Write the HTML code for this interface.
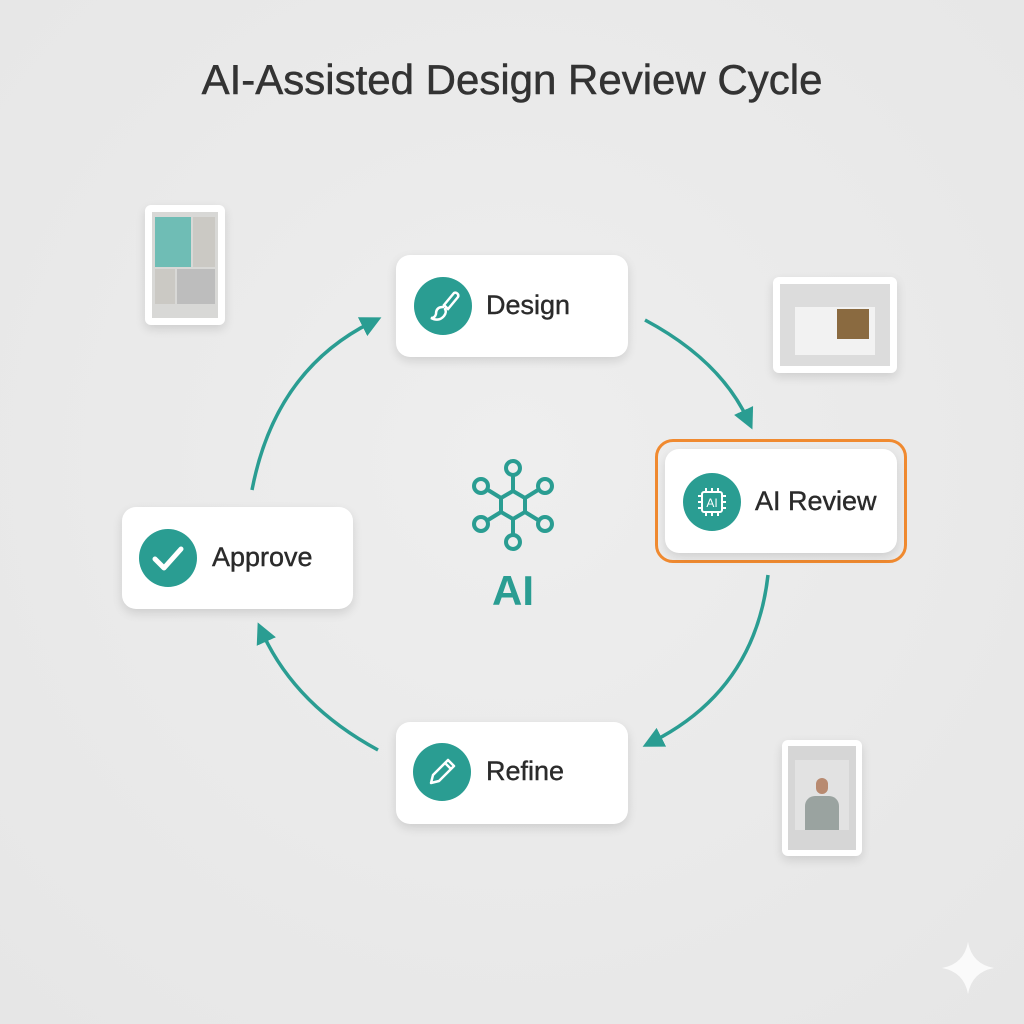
<!DOCTYPE html>
<html><head><meta charset="utf-8"><style>
html,body{margin:0;padding:0}
body{width:1024px;height:1024px;background:radial-gradient(circle at 50% 45%,#eeeeee,#e6e6e6);position:relative;overflow:hidden;font-family:"Liberation Sans",sans-serif}
.t{position:absolute;left:0;width:1024px;top:56px;text-align:center;font-size:42px;color:#333;-webkit-text-stroke:0.5px #333}
.card{position:absolute;background:#fff;border-radius:14px;box-shadow:0 4px 10px rgba(0,0,0,0.12)}
.lbl{position:absolute;font-size:27px;color:#2b2b2b;-webkit-text-stroke:0.4px #2b2b2b}
.ic{position:absolute;width:58px;height:58px;border-radius:50%;background:#2a9d92}
</style></head><body>
<div class="t">AI-Assisted Design Review Cycle</div>

<div class="card" style="left:145px;top:205px;width:80px;height:120px;border-radius:6px">
 <div style="position:absolute;left:7px;top:7px;width:66px;height:106px;background:#d8d8d6"></div>
 <div style="position:absolute;left:10px;top:12px;width:36px;height:50px;background:#6fbdb5"></div>
 <div style="position:absolute;left:48px;top:12px;width:22px;height:50px;background:#cbc9c4"></div>
 <div style="position:absolute;left:10px;top:64px;width:20px;height:35px;background:#cbc9c4"></div>
 <div style="position:absolute;left:32px;top:64px;width:38px;height:35px;background:#bdbdbd"></div>
</div>
<div class="card" style="left:773px;top:277px;width:124px;height:96px;border-radius:6px">
 <div style="position:absolute;left:7px;top:7px;width:110px;height:82px;background:#dcdcdc"></div>
 <div style="position:absolute;left:22px;top:30px;width:40px;height:48px;background:#f2f2f2"></div>
 <div style="position:absolute;left:62px;top:30px;width:40px;height:48px;background:#f2f2f2"></div>
 <div style="position:absolute;left:64px;top:32px;width:32px;height:30px;background:#8a6a40"></div>
</div>
<div class="card" style="left:782px;top:740px;width:80px;height:116px;border-radius:6px">
 <div style="position:absolute;left:6px;top:6px;width:68px;height:104px;background:#d6d6d6"></div>
 <div style="position:absolute;left:13px;top:20px;width:54px;height:70px;background:#e2e2e2"></div>
 <div style="position:absolute;left:23px;top:56px;width:34px;height:34px;background:#9aa3a0;border-radius:10px 10px 0 0"></div>
 <div style="position:absolute;left:34px;top:38px;width:12px;height:16px;background:#b88a70;border-radius:6px"></div>
</div>

<svg width="1024" height="1024" style="position:absolute;left:0;top:0">
 <defs><marker id="a" viewBox="0 0 10 10" refX="5" refY="5" markerWidth="6" markerHeight="6" orient="auto"><path d="M0,0 L10,5 L0,10 z" fill="#2a9d92"/></marker></defs>
 <g fill="none" stroke="#2a9d92" stroke-width="3.5">
  <path d="M645 320 Q720 360 748 420" marker-end="url(#a)"/>
  <path d="M768 575 Q755 690 652 742" marker-end="url(#a)"/>
  <path d="M378 750 Q295 705 262 632" marker-end="url(#a)"/>
  <path d="M252 490 Q275 370 372 322" marker-end="url(#a)"/>
 </g>
 <g stroke="#2a9d92" stroke-width="4" fill="none">
  <polygon points="513,491 525,498 525,512 513,519 501,512 501,498"/>
  <line x1="513" y1="491" x2="513" y2="475"/><line x1="513" y1="519" x2="513" y2="535"/>
  <line x1="525" y1="498" x2="538" y2="490"/><line x1="501" y1="498" x2="488" y2="490"/>
  <line x1="525" y1="512" x2="538" y2="520"/><line x1="501" y1="512" x2="488" y2="520"/>
  <circle cx="513" cy="468" r="7"/><circle cx="513" cy="542" r="7"/>
  <circle cx="481" cy="486" r="7"/><circle cx="545" cy="486" r="7"/>
  <circle cx="481" cy="524" r="7"/><circle cx="545" cy="524" r="7"/>
 </g>
 <text x="513" y="605" text-anchor="middle" font-family="Liberation Sans" font-size="42" font-weight="bold" fill="#2a9d92">AI</text>
 <path d="M968 942 Q972 964 994 968 Q972 972 968 994 Q964 972 942 968 Q964 964 968 942z" fill="#fafafa"/>
</svg>

<div class="card" style="left:396px;top:255px;width:232px;height:102px"></div>
<div class="ic" style="left:414px;top:277px"><svg width="58" height="58"><g fill="none" stroke="#fff" stroke-width="2.5" stroke-linecap="round"><path d="M40 16 a3 3 0 0 1 4 4 L34 32 L30 28 Z"/><path d="M29 30 Q22 30 22 37 Q21 41 17 41 Q25 45 30 39 Q33 35 31 32"/></g></svg></div>
<div class="lbl" style="left:486px;top:290px">Design</div>

<div style="position:absolute;left:655px;top:439px;width:246px;height:118px;border:3px solid #f08a30;border-radius:18px"></div>
<div class="card" style="left:665px;top:449px;width:232px;height:104px"></div>
<div class="ic" style="left:683px;top:473px"><svg width="58" height="58"><g fill="none" stroke="#fff" stroke-width="2"><rect x="19" y="19" width="20" height="20" rx="2"/><path d="M23 15v4M29 15v4M35 15v4M23 39v4M29 39v4M35 39v4M15 23h4M15 29h4M15 35h4M39 23h4M39 29h4M39 35h4"/></g><text x="29" y="34" text-anchor="middle" font-family="Liberation Sans" font-size="12" fill="#fff">AI</text></svg></div>
<div class="lbl" style="left:755px;top:486px">AI Review</div>

<div class="card" style="left:122px;top:507px;width:231px;height:102px"></div>
<div class="ic" style="left:139px;top:529px"><svg width="58" height="58"><path d="M16 30 L25 39 L42 20" fill="none" stroke="#fff" stroke-width="5" stroke-linecap="round" stroke-linejoin="round"/></svg></div>
<div class="lbl" style="left:212px;top:542px">Approve</div>

<div class="card" style="left:396px;top:722px;width:232px;height:102px"></div>
<div class="ic" style="left:413px;top:743px"><svg width="58" height="58"><g fill="none" stroke="#fff" stroke-width="2.5" stroke-linejoin="round"><path d="M18 40 L20 32 L35 17 L41 23 L26 38 Z"/><path d="M32 20 L38 26"/></g></svg></div>
<div class="lbl" style="left:486px;top:756px">Refine</div>
</body></html>
